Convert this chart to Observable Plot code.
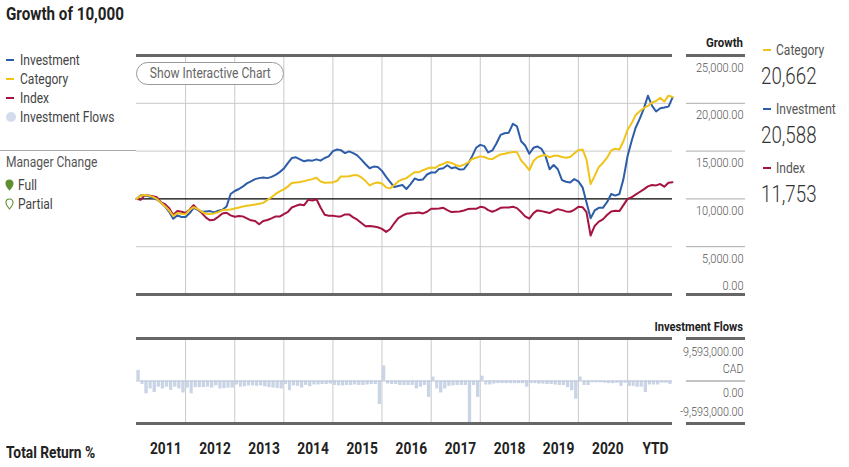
<!DOCTYPE html>
<html><head><meta charset="utf-8">
<script src="https://cdn.jsdelivr.net/npm/d3@7"></script>
<script src="https://cdn.jsdelivr.net/npm/@observablehq/plot@0.6"></script>
<style>
body{margin:0;background:#fff;}
#root{position:relative;width:849px;height:467px;overflow:hidden;font-family:Roboto,"Liberation Sans",sans-serif;color:#333}
.a{position:absolute;white-space:nowrap;line-height:18px}
.a span{display:inline-block}
#root svg{position:absolute;left:0;overflow:visible}
</style></head><body><div id="root"></div>
<script>
// ---- data (monthly, starting Jan 2011) ----
const investment = [10000,10380,10414,10276,10103,9931,9621,9207,8655,7931,8276,8103,
8103,8517,9069,8862,8655,8690,8724,8586,8759,8862,9207,10517,
10828,11035,11276,11621,11828,12069,12172,12241,12172,12300,12517,12800,
13172,13759,14276,14345,14138,13931,14035,14000,14138,14000,14276,14448,
15000,15172,15103,14793,14966,14793,14552,14103,13621,13207,13379,13345,
12931,12310,11793,11241,11345,11448,11035,11552,12138,11966,12035,12552,
12759,12759,13138,13207,13517,13207,13310,13069,13103,13655,14448,15345,
15655,15517,14862,15069,15793,16690,16862,16931,17862,17586,16034,15586,
14724,15345,15483,15241,14500,13103,13552,13103,11966,11793,11724,12069,
11828,11207,9655,7966,8793,9069,9069,9655,10517,10345,10517,12069,
14483,16103,17414,18379,19414,20793,19759,19138,19483,19552,19650,20588];
const category = [10000,10345,10414,10345,10207,10000,9621,9241,8793,8207,8517,8448,
8379,8862,9138,8931,8655,8448,8414,8483,8621,8828,8862,8897,
9000,9103,9207,9276,9345,9414,9483,9586,9900,10172,10517,10793,
11000,11310,11655,11724,11759,11862,11966,12069,12207,11828,11690,11724,
11724,11897,12345,12345,12379,12483,12483,12241,11862,11414,11621,11724,
11621,11207,11103,11448,11828,12035,12172,12500,12800,12793,13000,13172,
13276,13241,13517,13655,13862,13759,13552,13414,13586,13793,14172,14310,
14448,14379,14207,14172,14414,14655,14724,14828,14897,14897,14034,13552,
13000,13966,14345,14517,14586,14345,14517,14517,14379,14310,14379,14759,
15103,15172,14138,11550,12414,13345,13759,14310,15069,15241,15172,16034,
17241,17931,18759,19172,19483,19724,20069,20241,20586,20172,20800,20662];
const indexSeries = [10000,9897,10345,10345,10276,10172,9655,9448,9034,8310,8724,8655,
8517,8897,9345,8862,8517,8034,7759,7828,8138,8483,8552,8276,
8138,8207,8172,7966,7759,7690,7345,7690,7793,7966,8172,8150,
8414,8655,9103,9276,9414,9345,9897,9828,9966,9103,8345,8241,
8241,8172,8172,8379,8379,8069,7828,7483,7138,7172,7103,7034,
6862,6552,6828,7448,8000,8241,8448,8500,8517,8586,8483,8655,
8966,8966,9000,9069,8828,8621,8655,8690,8793,8931,8966,8966,
9172,9103,8828,8655,8828,9069,9103,9103,9172,9034,8621,8172,
7931,8517,8793,8724,8621,8517,8759,8931,8828,8690,8655,8862,
9172,9138,8621,6172,7172,7621,7862,8310,8690,8759,8724,9345,
10000,10172,10448,10724,11000,11310,11448,11414,11552,11276,11690,11753];
// investment flows, millions CAD per month
const flows = [2.4,-0.8,-2.9,-1.8,-2.6,-1.4,-1.8,-1.4,-2.1,-1.4,-1.8,-2.7,
-1.6,-2.9,-1.5,-1.5,-1.5,-1.4,-1.6,-1.1,-1.8,-1.7,-1.6,-1.6,
-0.9,-1.4,-1.3,-1.1,-1.1,-1.2,-1.1,-1.3,-1.5,-1.6,-1.7,-1.8,
-0.8,-2.2,-1.1,-1.2,-1.6,-1.0,-1.3,-0.9,-0.9,-0.8,-0.8,-0.7,
-1.0,-1.1,-1.1,-1.0,-1.0,-0.9,-1.0,-1.0,-0.9,-0.8,-0.8,-5.3,
3.4,-0.7,-0.8,-0.8,-1.0,-1.0,-1.0,-1.0,-1.8,-1.4,-1.0,-3.7,
0.9,-1.8,-2.7,-1.8,-1.2,-1.1,-1.0,-1.0,-1.0,-9.6,-1.0,-3.7,
1.1,-0.9,-0.9,-0.7,-0.6,-0.6,-0.6,-0.6,-0.6,-0.6,-0.6,-1.4,
-0.6,-0.6,-0.7,-0.7,-0.8,-0.8,-0.9,-1.0,-1.0,-1.5,-2.2,-4.1,
0.9,-1.0,-1.0,-0.4,-0.4,-0.4,-0.5,-0.6,-0.6,-0.5,-1.2,-0.5,
-1.2,-1.2,-1.4,-1.4,-2.6,-0.9,-0.9,-0.9,-0.5,-0.5,-0.8];
const yearLabels = ["2011","2012","2013","2014","2015","2016","2017","2018","2019","2020","YTD"];
const growthTicks = [0,5000,10000,15000,20000,25000];
const flowLimit = 9593000;
const seriesNames = ["Investment","Category","Index"];
const seriesColors = {Investment:"#2d5da8",Category:"#f0c31a",Index:"#a51440"};
const finalValues = {Category:"20,662",Investment:"20,588",Index:"11,753"};

// ---- build ----
const FF = 'Roboto,"Liberation Sans",sans-serif';
const root = document.getElementById("root");
const month = i => new Date(Date.UTC(2011, i, 1));
const xDomain = [month(0), month(131)];
const gridDates = d3.range(2012, 2022).map(y => new Date(Date.UTC(y, 0, 1)));
const labelDates = [...gridDates, month(131)];
const toRows = (arr, name) => arr.map((v, i) => ({date: month(i), value: v, series: name}));
const rowsInv = toRows(investment, "Investment");
const rowsCat = toRows(category, "Category");
const rowsIdx = toRows(indexSeries, "Index");
const flowRows = flows.map((v, i) => ({start: month(i), end: month(i + 1), value: v * 1e6}));
const fmt2 = d3.formatLocale({decimal: ".", thousands: ",", grouping: [3], currency: ["", ""], minus: "-"}).format(",.2f");
const axisText = {frameAnchor: "right", dx: 71, textAnchor: "end", fill: "#555", fontSize: 12.5, fontWeight: 300};

const growth = Plot.plot({
  width: 849, height: 300, marginLeft: 136, marginRight: 177, marginTop: 55, marginBottom: 6,
  x: {type: "utc", domain: xDomain, axis: null},
  y: {domain: [0, 25000], axis: null},
  style: {fontFamily: FF, background: "transparent", overflow: "visible"},
  marks: [
    Plot.ruleX(gridDates, {stroke: "#c9c9c9"}),
    Plot.ruleY([5000, 15000, 20000], {stroke: "#c9c9c9"}),
    Plot.ruleY([10000], {stroke: "#000", strokeWidth: 1.2}),
    Plot.line(rowsIdx, {x: "date", y: "value", stroke: seriesColors.Index, strokeWidth: 2}),
    Plot.line(rowsInv, {x: "date", y: "value", stroke: seriesColors.Investment, strokeWidth: 2}),
    Plot.line(rowsCat, {x: "date", y: "value", stroke: seriesColors.Category, strokeWidth: 2}),
    Plot.ruleY([0, 25000], {stroke: "#666", strokeWidth: 3}),
    Plot.axisY([5000, 10000, 15000, 20000], {anchor: "right", label: null, tickSize: 59, dx: 13, stroke: "#aaa", tickFormat: () => ""}),
    Plot.axisY([0, 25000], {anchor: "right", label: null, tickSize: 59, dx: 13, stroke: "#666", strokeWidth: 3, tickFormat: () => ""}),
    Plot.text(growthTicks.filter(d => d > 0), {y: d => d, text: d => fmt2(d), dy: 12, ...axisText}),
    Plot.text([0], {y: d => d, text: d => fmt2(d), dy: -9, ...axisText})
  ]
});
growth.style.top = "0px";
root.appendChild(growth);

const flowsPlot = Plot.plot({
  width: 849, height: 147, marginLeft: 136, marginRight: 177, marginTop: 18, marginBottom: 44,
  x: {type: "utc", domain: xDomain, axis: null},
  y: {domain: [-flowLimit, flowLimit], axis: null},
  style: {fontFamily: FF, background: "transparent", overflow: "visible"},
  marks: [
    Plot.ruleX(gridDates, {stroke: "#c9c9c9"}),
    Plot.rect(flowRows, {x1: "start", x2: "end", y1: 0, y2: "value", fill: "#cad4e7", insetLeft: 0.4, insetRight: 0.4}),
    Plot.ruleY([0], {stroke: "#bcc6d8"}),
    Plot.ruleY([-flowLimit, flowLimit], {stroke: "#666", strokeWidth: 3}),
    Plot.axisY([0], {anchor: "right", label: null, tickSize: 59, dx: 13, stroke: "#888", tickFormat: () => ""}),
    Plot.axisY([-flowLimit, flowLimit], {anchor: "right", label: null, tickSize: 59, dx: 13, stroke: "#666", strokeWidth: 3, tickFormat: () => ""}),
    Plot.text([flowLimit], {y: d => d, text: d => fmt2(d), dy: 13, ...axisText}),
    Plot.text([0], {y: d => d, text: () => "CAD", dy: -12, ...axisText}),
    Plot.text([0], {y: d => d, text: d => fmt2(d), dy: 12, ...axisText}),
    Plot.text([-flowLimit], {y: d => d, text: d => fmt2(d), dy: -12, ...axisText}),
    Plot.text(labelDates, {x: d => d, text: (d, i) => yearLabels[i], frameAnchor: "bottom", dy: 30, dx: -4, textAnchor: "end", fontWeight: "bold", fontSize: 16, fill: "#222"})
  ]
});
flowsPlot.style.top = "320px";
root.appendChild(flowsPlot);

// condense svg text (narrow face look)
function condenseSvg(svg, k) {
  svg.querySelectorAll("text").forEach(t => {
    const L = t.getComputedTextLength();
    if (L > 0) { t.setAttribute("textLength", (L * k).toFixed(1)); t.setAttribute("lengthAdjust", "spacingAndGlyphs"); }
  });
}

// ---- html text ----
function addText(txt, left, cy, css = {}, k = 0.82, origin = "left") {
  const d = document.createElement("div");
  d.className = "a";
  const s = document.createElement("span");
  s.textContent = txt;
  s.style.transform = `scaleX(${k})`;
  s.style.transformOrigin = origin + " center";
  d.appendChild(s);
  d.style.left = left + "px";
  d.style.top = (cy - 9) + "px";
  Object.assign(d.style, css);
  root.appendChild(d);
  return d;
}
function addRight(txt, right, cy, css = {}, k = 0.82) {
  const d = addText(txt, 0, cy, css, k, "right");
  d.style.left = "auto";
  d.style.right = (849 - right) + "px";
  return d;
}
function addBox(left, top, w, h, css) {
  const d = document.createElement("div");
  d.style.position = "absolute";
  d.style.left = left + "px"; d.style.top = top + "px";
  d.style.width = w + "px"; d.style.height = h + "px";
  Object.assign(d.style, css);
  root.appendChild(d);
  return d;
}
addText("Growth of 10,000", 6, 14, {fontWeight: "bold", fontSize: "19px", color: "#222"}, 0.8);
// left legend
seriesNames.forEach((n, i) => {
  const cy = 60 + i * 19;
  addBox(6, cy - 1, 8, 2, {background: seriesColors[n]});
  addText(n, 20, cy, {fontSize: "14px", color: "#444"}, 0.86);
});
addBox(6, 112, 10, 10, {background: "#d3dcec", borderRadius: "50%"});
addText("Investment Flows", 20, 117, {fontSize: "14px", color: "#444"}, 0.86);
addBox(0, 150, 136, 1, {background: "#aaa"});
addText("Manager Change", 6, 162, {fontSize: "14px", color: "#555"}, 0.86);
function pin(left, top, filled) {
  const s = document.createElementNS("http://www.w3.org/2000/svg", "svg");
  s.setAttribute("width", 9); s.setAttribute("height", 12);
  s.style.position = "absolute"; s.style.left = left + "px"; s.style.top = top + "px";
  s.innerHTML = `<path d="M4.5 1 C2.3 1 1 2.6 1 4.5 C1 7 4.5 11 4.5 11 C4.5 11 8 7 8 4.5 C8 2.6 6.7 1 4.5 1Z" fill="${filled ? "#5f8f2f" : "#fff"}" stroke="#5f8f2f" stroke-width="1.1"/>`;
  root.appendChild(s);
}
pin(5, 179, true);
addText("Full", 18, 185, {fontSize: "14px", color: "#444"}, 0.86);
pin(5, 198, false);
addText("Partial", 18, 204, {fontSize: "14px", color: "#444"}, 0.86);
// button
const btn = addBox(136, 62, 146, 21, {border: "1px solid #999", borderRadius: "12px", background: "#fff"});
const bt = addText("Show Interactive Chart", 0, 0, {fontSize: "14px", color: "#666", lineHeight: "21px", width: "146px", textAlign: "center", top: "0px"}, 0.86, "center");
btn.appendChild(bt);
// right headers
addRight("Growth", 743, 43, {fontWeight: "bold", fontSize: "13px", color: "#222"}, 0.88);
addRight("Investment Flows", 743, 327, {fontWeight: "bold", fontSize: "13px", color: "#222"}, 0.86);
// right legend
["Category", "Investment", "Index"].forEach((n, i) => {
  const cy = 50 + i * 59;
  addBox(763, cy - 1, 8, 2, {background: seriesColors[n]});
  addText(n, 776, cy, {fontSize: "14px", color: "#555"}, 0.86);
  addText(finalValues[n], 761, cy + 26, {fontSize: "24px", fontWeight: 300, color: "#333"}, 0.78);
});
addText("Total Return %", 6, 453, {fontWeight: "bold", fontSize: "16px", color: "#222"}, 0.86);
condenseSvg(growth, 0.88);
condenseSvg(flowsPlot, 0.86);
</script></body></html>
